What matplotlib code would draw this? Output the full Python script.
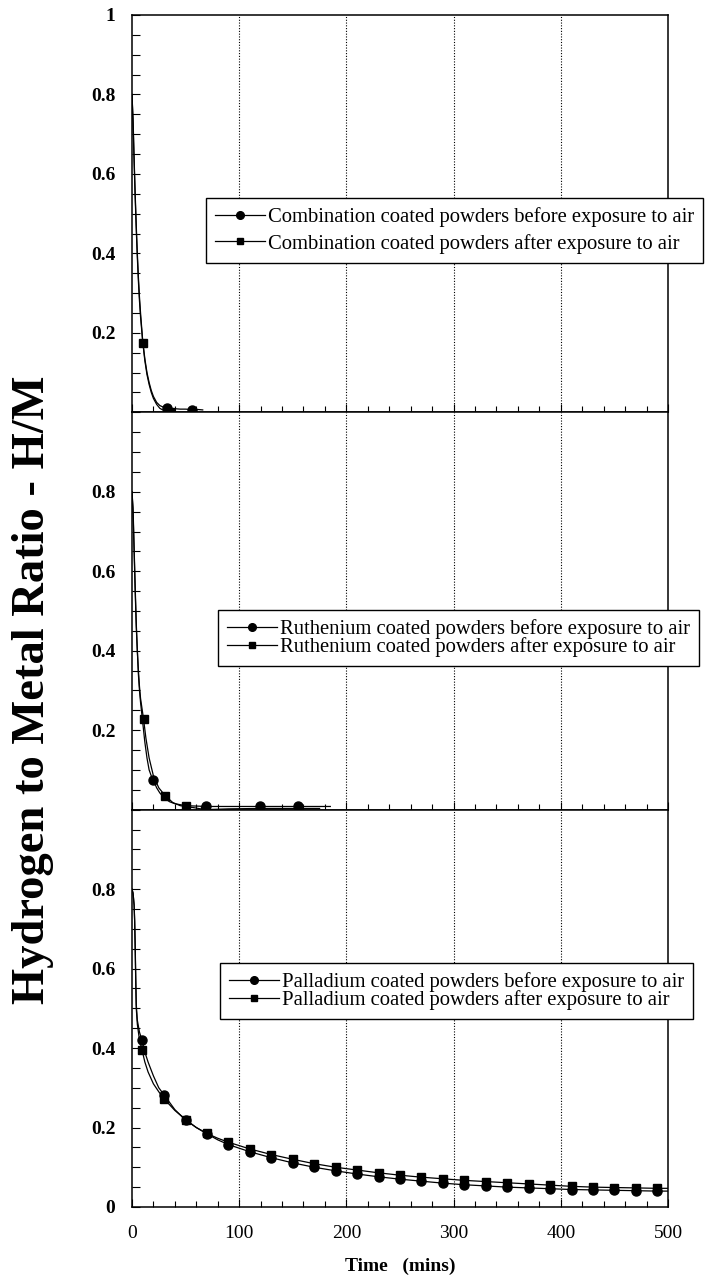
import matplotlib
matplotlib.use("Agg")
import matplotlib.pyplot as plt
from matplotlib.lines import Line2D
from matplotlib.ticker import MultipleLocator

plt.rcParams['font.family'] = ['Liberation Serif', 'DejaVu Serif']

# --- Combination coated powders (top panel) ---
comb_before_t = [0, 1, 2, 3, 4, 5, 6, 7, 8, 10, 12, 14, 16, 18, 20, 23, 26, 30, 35, 40, 45, 50, 56, 62, 66]
comb_before_h = [0.80, 0.74, 0.64, 0.55, 0.47, 0.40, 0.34, 0.29, 0.25, 0.18, 0.135, 0.10, 0.075, 0.055,
                 0.04, 0.025, 0.017, 0.012, 0.010, 0.009, 0.008, 0.008, 0.007, 0.007, 0.006]
comb_before_mt = [33, 56]
comb_before_mh = [0.010, 0.007]
comb_after_t = [0, 1, 2, 3, 4, 5, 6, 7, 8, 10, 12, 14, 16, 18, 20, 23, 26, 30, 35, 38]
comb_after_h = [0.80, 0.73, 0.63, 0.54, 0.46, 0.39, 0.33, 0.28, 0.24, 0.178, 0.13, 0.095, 0.07, 0.05,
                0.035, 0.02, 0.01, 0.004, 0.0, 0.0]
comb_after_mt = [10.3, 35.5]
comb_after_mh = [0.175, 0.0]

# --- Ruthenium coated powders (middle panel) ---
ru_before_t = [0, 1, 2, 3, 4, 5, 6, 7, 8, 10, 12, 14, 16, 18, 20, 23, 26, 30, 35, 40, 50, 60, 70, 90,
               120, 155, 185]
ru_before_h = [0.80, 0.76, 0.66, 0.56, 0.47, 0.40, 0.34, 0.30, 0.27, 0.22, 0.17, 0.13, 0.10, 0.085,
               0.074, 0.055, 0.042, 0.030, 0.020, 0.015, 0.010, 0.009, 0.008, 0.008, 0.008, 0.008, 0.008]
ru_before_mt = [20, 69, 119, 155]
ru_before_mh = [0.074, 0.008, 0.008, 0.008]
ru_after_t = [0, 1, 2, 3, 4, 5, 6, 7, 8, 10.8, 13, 16, 20, 25, 31, 38, 45, 50, 60, 68, 90, 120, 150, 175]
ru_after_h = [0.80, 0.75, 0.65, 0.55, 0.46, 0.40, 0.35, 0.31, 0.28, 0.228, 0.18, 0.13, 0.085, 0.055,
              0.035, 0.018, 0.010, 0.008, 0.004, 0.0, 0.002, 0.003, 0.003, 0.003]
ru_after_mt = [10.8, 31, 50, 68]
ru_after_mh = [0.228, 0.035, 0.008, 0.0]

# --- Palladium coated powders (bottom panel) ---
pd_t = [0, 1, 2, 2.5, 3, 3.5, 4, 5, 7, 9.3, 12, 15, 20, 25, 30, 40, 50, 60, 70, 80, 90, 110, 130, 150,
        170, 190, 210, 230, 250, 270, 290, 310, 330, 350, 370, 390, 410, 430, 450, 470, 490, 500]
pd_before_h = [0.80, 0.79, 0.76, 0.72, 0.66, 0.58, 0.51, 0.47, 0.44, 0.42, 0.39, 0.365, 0.33, 0.30,
               0.282, 0.245, 0.219, 0.20, 0.184, 0.169, 0.157, 0.139, 0.124, 0.111, 0.100, 0.091, 0.083,
               0.076, 0.070, 0.065, 0.060, 0.056, 0.053, 0.050, 0.048, 0.046, 0.044, 0.043, 0.042, 0.041,
               0.040, 0.040]
pd_after_h = [0.80, 0.79, 0.76, 0.72, 0.65, 0.57, 0.50, 0.46, 0.42, 0.396, 0.365, 0.34, 0.31, 0.29,
              0.272, 0.243, 0.220, 0.200, 0.185, 0.173, 0.163, 0.146, 0.132, 0.120, 0.109, 0.100, 0.093,
              0.086, 0.080, 0.075, 0.071, 0.067, 0.064, 0.061, 0.058, 0.055, 0.052, 0.050, 0.049, 0.048,
              0.047, 0.047]
pd_mt = [9.3, 30, 50, 70, 90, 110, 130, 150, 170, 190, 210, 230, 250, 270, 290, 310, 330, 350, 370,
         390, 410, 430, 450, 470, 490]
pd_before_mh = [0.42, 0.282, 0.219, 0.184, 0.157, 0.139, 0.124, 0.111, 0.100, 0.091, 0.083, 0.076,
                0.070, 0.065, 0.060, 0.056, 0.053, 0.050, 0.048, 0.046, 0.044, 0.043, 0.042, 0.041, 0.040]
pd_after_mh = [0.396, 0.272, 0.220, 0.185, 0.163, 0.146, 0.132, 0.120, 0.109, 0.100, 0.093, 0.086,
               0.080, 0.075, 0.071, 0.067, 0.064, 0.061, 0.058, 0.055, 0.052, 0.050, 0.049, 0.048, 0.047]

legend_labels = [
    ["Combination coated powders before exposure to air", "Combination coated powders after exposure to air"],
    ["Ruthenium coated powders before exposure to air", "Ruthenium coated powders after exposure to air"],
    ["Palladium coated powders before exposure to air", "Palladium coated powders after exposure to air"],
]
x_ticks = [0, 100, 200, 300, 400, 500]
x_ticklabels = ["0", "100", "200", "300", "400", "500"]
y_ticks = [[0.2, 0.4, 0.6, 0.8, 1.0], [0.2, 0.4, 0.6, 0.8], [0, 0.2, 0.4, 0.6, 0.8]]
y_ticklabels = [["0.2", "0.4", "0.6", "0.8", "1"], ["0.2", "0.4", "0.6", "0.8"], ["0", "0.2", "0.4", "0.6", "0.8"]]

fig, axes = plt.subplots(3, 1, sharex=True, figsize=(7.08, 12.79), dpi=100)
fig.subplots_adjust(left=0.1864, right=0.9435, bottom=0.0563, top=0.9883, hspace=0)

panels = [
    (comb_before_t, comb_before_h, comb_before_mt, comb_before_mh,
     comb_after_t, comb_after_h, comb_after_mt, comb_after_mh),
    (ru_before_t, ru_before_h, ru_before_mt, ru_before_mh,
     ru_after_t, ru_after_h, ru_after_mt, ru_after_mh),
    (pd_t, pd_before_h, pd_mt, pd_before_mh,
     pd_t, pd_after_h, pd_mt, pd_after_mh),
]
# anchor (figure fraction), label spacing
legend_pos = [(0.291, 0.8452, 0.32), (0.308, 0.523, -0.08), (0.311, 0.247, -0.08)]

for i, ax in enumerate(axes):
    bt, bh, bmt, bmh, at, ah, amt, amh = panels[i]
    ax.plot(bt, bh, '-', color='k', lw=0.9)
    ax.plot(at, ah, '-', color='k', lw=0.9)
    ax.plot(bmt, bmh, 'o', color='k', ms=6.5, clip_on=False, zorder=4)
    ax.plot(amt, amh, 's', color='k', ms=5.8, clip_on=False, zorder=4)

    ax.set_xlim(0, 500)
    ax.set_ylim(0, 1)
    for gx in [100, 200, 300, 400]:
        ax.axvline(gx, color='k', ls=(0, (1, 1.5)), lw=0.8, zorder=1)

    ax.set_yticks(y_ticks[i])
    ax.set_yticklabels(y_ticklabels[i], fontweight='bold')
    ax.yaxis.set_minor_locator(MultipleLocator(0.05))
    ax.xaxis.set_minor_locator(MultipleLocator(20))
    ax.tick_params(which='both', direction='in', top=False, right=False, labelsize=14, width=0.8)
    ax.tick_params(axis='y', which='both', length=6, pad=12)
    ax.tick_params(axis='x', which='major', length=6, pad=13)
    ax.tick_params(axis='x', which='minor', length=4)
    for s in ax.spines.values():
        s.set_linewidth(1.1)

    handles = [Line2D([], [], color='k', lw=0.9, marker='o', ms=5.5),
               Line2D([], [], color='k', lw=0.9, marker='s', ms=5)]
    lx, ly, lsp = legend_pos[i]
    leg = ax.legend(handles, legend_labels[i], loc='upper left', bbox_to_anchor=(lx, ly),
                    bbox_transform=fig.transFigure, fontsize=14.9, handlelength=2.4,
                    handletextpad=0.15, borderpad=0.44, borderaxespad=0, labelspacing=lsp,
                    fancybox=False, framealpha=1, edgecolor='k')
    leg.get_frame().set_linewidth(1.0)

axes[2].set_xticks(x_ticks)
axes[2].set_xticklabels(x_ticklabels)
axes[2].set_xlabel("Time   (mins)", fontsize=14, fontweight='bold', labelpad=11)

fig.text(0.046, 1 - 690 / 1279, "Hydrogen to Metal Ratio - H/M", rotation=90, fontsize=33.5,
         fontweight='bold', ha='center', va='center')

plt.savefig('out.png', dpi=100)
